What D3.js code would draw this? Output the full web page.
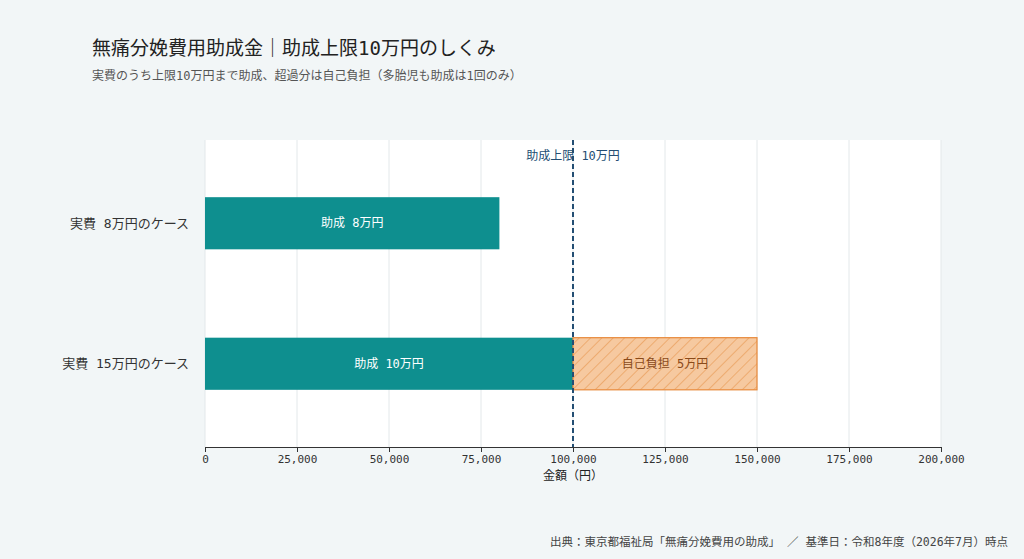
<!DOCTYPE html><html><head><meta charset="utf-8"><script src="https://cdn.jsdelivr.net/npm/d3@7"></script>
<style>body{margin:0;background:#f2f6f7}svg{font-family:"DejaVu Sans Mono","Noto Sans CJK JP",monospace}</style></head><body><svg id="c" width="1024" height="559"></svg><script>
const categories=["実費 8万円のケース","実費 15万円のケース"];
const subsidy=[80000,100000];
const selfPay=[0,50000];
const subsidyLabels=["助成 8万円","助成 10万円"];
const selfLabels=["","自己負担 5万円"];
const ticks=[0,25000,50000,75000,100000,125000,150000,175000,200000];
const cap=100000;
const svg=d3.select("#c");
const m={l:205,r:941,t:140,b:447};
const x=d3.scaleLinear().domain([0,200000]).range([m.l,m.r]);
const y=d3.scaleBand().domain(categories).range([m.t,m.b]).paddingInner(0.629).paddingOuter(0.407);
const defs=svg.append("defs");
const p=defs.append("pattern").attr("id","h").attr("patternUnits","userSpaceOnUse").attr("width",8).attr("height",8).attr("patternTransform","rotate(45)");
p.append("rect").attr("width",8).attr("height",8).attr("fill","#f6c9a0");
p.append("line").attr("x1",0).attr("y1",0).attr("x2",0).attr("y2",8).attr("stroke","#e8974f").attr("stroke-width",1.2);
svg.append("rect").attr("x",m.l).attr("y",m.t).attr("width",m.r-m.l).attr("height",m.b-m.t).attr("fill","#fff");
svg.append("g").selectAll("line").data(ticks).join("line").attr("x1",d=>x(d)).attr("x2",d=>x(d)).attr("y1",m.t).attr("y2",m.b).attr("stroke","#e3e8ea");
const ax=svg.append("g").attr("transform",`translate(0,${m.b})`).call(d3.axisBottom(x).tickValues(ticks).tickFormat(d3.format(",")).tickSize(5));
ax.selectAll("text").attr("font-size",11).attr("fill","#333").attr("font-family","DejaVu Sans Mono");
ax.select(".domain").attr("stroke","#333");ax.selectAll(".tick line").attr("stroke","#333");
svg.append("text").attr("x",x(100000)).attr("y",480).attr("text-anchor","middle").attr("font-size",12).attr("fill","#222").text("金額（円）");
svg.append("g").selectAll("text").data(categories).join("text").attr("x",189).attr("y",d=>y(d)+y.bandwidth()/2).attr("dy","0.35em").attr("text-anchor","end").attr("font-size",13).attr("fill","#333").text(d=>d);
svg.append("g").selectAll("rect").data(categories).join("rect").attr("x",x(0)).attr("y",d=>y(d)).attr("height",y.bandwidth()).attr("width",(d,i)=>x(subsidy[i])-x(0)).attr("fill","#0e8f8f");
svg.append("g").selectAll("rect").data(categories.filter((d,i)=>selfPay[i]>0)).join("rect").attr("x",d=>x(subsidy[categories.indexOf(d)])).attr("y",d=>y(d)).attr("height",y.bandwidth()).attr("width",d=>{const i=categories.indexOf(d);return x(subsidy[i]+selfPay[i])-x(subsidy[i]);}).attr("fill","url(#h)").attr("stroke","#e8893a").attr("stroke-width",1.2);
svg.append("g").selectAll("text").data(categories).join("text").attr("x",(d,i)=>x(subsidy[i]/2)).attr("y",d=>y(d)+y.bandwidth()/2).attr("dy","0.35em").attr("text-anchor","middle").attr("font-size",12).attr("fill","#fff").text((d,i)=>subsidyLabels[i]);
svg.append("g").selectAll("text").data(categories.filter((d,i)=>selfPay[i]>0)).join("text").attr("x",d=>{const i=categories.indexOf(d);return x(subsidy[i]+selfPay[i]/2);}).attr("y",d=>y(d)+y.bandwidth()/2).attr("dy","0.35em").attr("text-anchor","middle").attr("font-size",12).attr("fill","#8a4a1a").text(d=>selfLabels[categories.indexOf(d)]);
svg.append("line").attr("x1",x(cap)).attr("x2",x(cap)).attr("y1",m.t).attr("y2",m.b).attr("stroke","#234e73").attr("stroke-width",2).attr("stroke-dasharray","5,3");
svg.append("text").attr("x",x(cap)).attr("y",160).attr("text-anchor","middle").attr("font-size",12).attr("fill","#234e73").text("助成上限 10万円");
svg.append("text").attr("x",92).attr("y",55).attr("font-size",19).attr("fill","#222").text("無痛分娩費用助成金｜助成上限10万円のしくみ");
svg.append("text").attr("x",92).attr("y",80).attr("font-size",12).attr("fill","#555").text("実費のうち上限10万円まで助成、超過分は自己負担（多胎児も助成は1回のみ）");
svg.append("text").attr("x",1008).attr("y",546).attr("text-anchor","end").attr("font-size",11.5).attr("fill","#444").text("出典：東京都福祉局「無痛分娩費用の助成」 ／ 基準日：令和8年度（2026年7月）時点");
</script></body></html>
